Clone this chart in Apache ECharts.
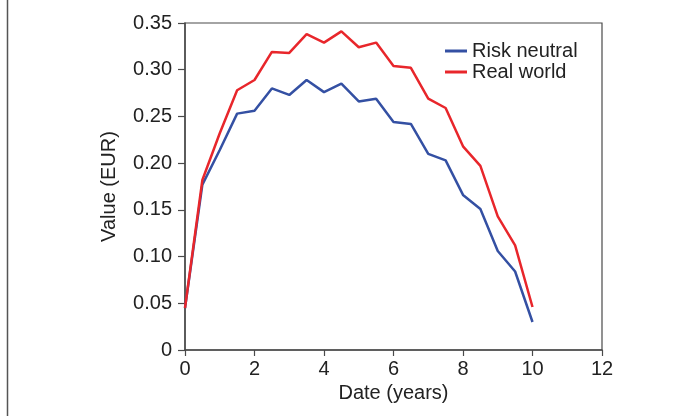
<!DOCTYPE html>
<html>
<head>
<meta charset="utf-8">
<script src="https://cdn.jsdelivr.net/npm/echarts@6/dist/echarts.min.js"></script>
<style>
  html, body { margin: 0; padding: 0; background: #fff; }
  #chart { width: 695px; height: 416px; }
</style>
</head>
<body>
<div id="chart"></div>
<script>
  // data
  const dates = [0, 0.5, 1, 1.5, 2, 2.5, 3, 3.5, 4, 4.5, 5, 5.5, 6, 6.5, 7, 7.5, 8, 8.5, 9, 9.5, 10];
  const riskNeutral = [0.045, 0.177, 0.214, 0.253, 0.256, 0.280, 0.273, 0.289, 0.276, 0.285, 0.266, 0.269,
    0.244, 0.242, 0.210, 0.203, 0.166, 0.151, 0.106, 0.084, 0.030];
  const realWorld = [0.045, 0.182, 0.232, 0.278, 0.289, 0.319, 0.318, 0.338, 0.329, 0.341, 0.324, 0.329,
    0.304, 0.302, 0.269, 0.259, 0.218, 0.197, 0.143, 0.112, 0.046];

  const font = "'Liberation Sans', Arial, sans-serif";
  const axisColor = '#4a4a4a';
  const fs = 20;

  const pairs = (ys) => dates.map((d, i) => [d, ys[i]]);

  const chart = echarts.init(document.getElementById('chart'));
  chart.setOption({
    animation: false,
    textStyle: { fontFamily: font },
    grid: {
      left: 185, right: 93, top: 23, bottom: 66,
      show: true, borderColor: axisColor, borderWidth: 1.2,
    },
    graphic: [
      {
        type: 'line',
        shape: { x1: 7.5, y1: 0, x2: 7.5, y2: 416 },
        style: { stroke: '#555', lineWidth: 1.5 },
      },
    ],
    legend: {
      orient: 'vertical',
      left: 445, top: 41, padding: 0,
      icon: 'rect',
      itemWidth: 22, itemHeight: 3, itemGap: 1,
      textStyle: { fontFamily: font, fontSize: fs, color: '#222' },
      data: ['Risk neutral', 'Real world'],
    },
    xAxis: {
      type: 'value',
      min: 0, max: 12, interval: 2,
      name: 'Date (years)',
      nameLocation: 'middle',
      nameGap: 33,
      nameTextStyle: { fontFamily: font, fontSize: fs, color: '#222' },
      axisLine: { lineStyle: { color: axisColor, width: 1.5 } },
      axisTick: { length: 6, lineStyle: { color: axisColor, width: 1.2 } },
      axisLabel: { margin: 9, fontFamily: font, fontSize: fs, color: '#222' },
      splitLine: { show: false },
    },
    yAxis: {
      type: 'value',
      min: 0, max: 0.35, interval: 0.05,
      name: 'Value (EUR)',
      nameLocation: 'middle',
      nameGap: 66,
      nameTextStyle: { fontFamily: font, fontSize: fs, color: '#222' },
      axisLine: { show: true, lineStyle: { color: axisColor, width: 1.5 } },
      axisTick: { show: true, length: 7, lineStyle: { color: axisColor, width: 1.2 } },
      axisLabel: {
        margin: 13, fontFamily: font, fontSize: fs, color: '#222',
        formatter: (v) => (v === 0 ? '0' : v.toFixed(2)),
      },
      splitLine: { show: false },
    },
    series: [
      {
        name: 'Risk neutral',
        type: 'line',
        symbol: 'none',
        lineStyle: { color: '#3450a3', width: 2.5 },
        itemStyle: { color: '#3450a3' },
        data: pairs(riskNeutral),
      },
      {
        name: 'Real world',
        type: 'line',
        symbol: 'none',
        lineStyle: { color: '#e8262b', width: 2.5 },
        itemStyle: { color: '#e8262b' },
        data: pairs(realWorld),
      },
    ],
  });
</script>
</body>
</html>
